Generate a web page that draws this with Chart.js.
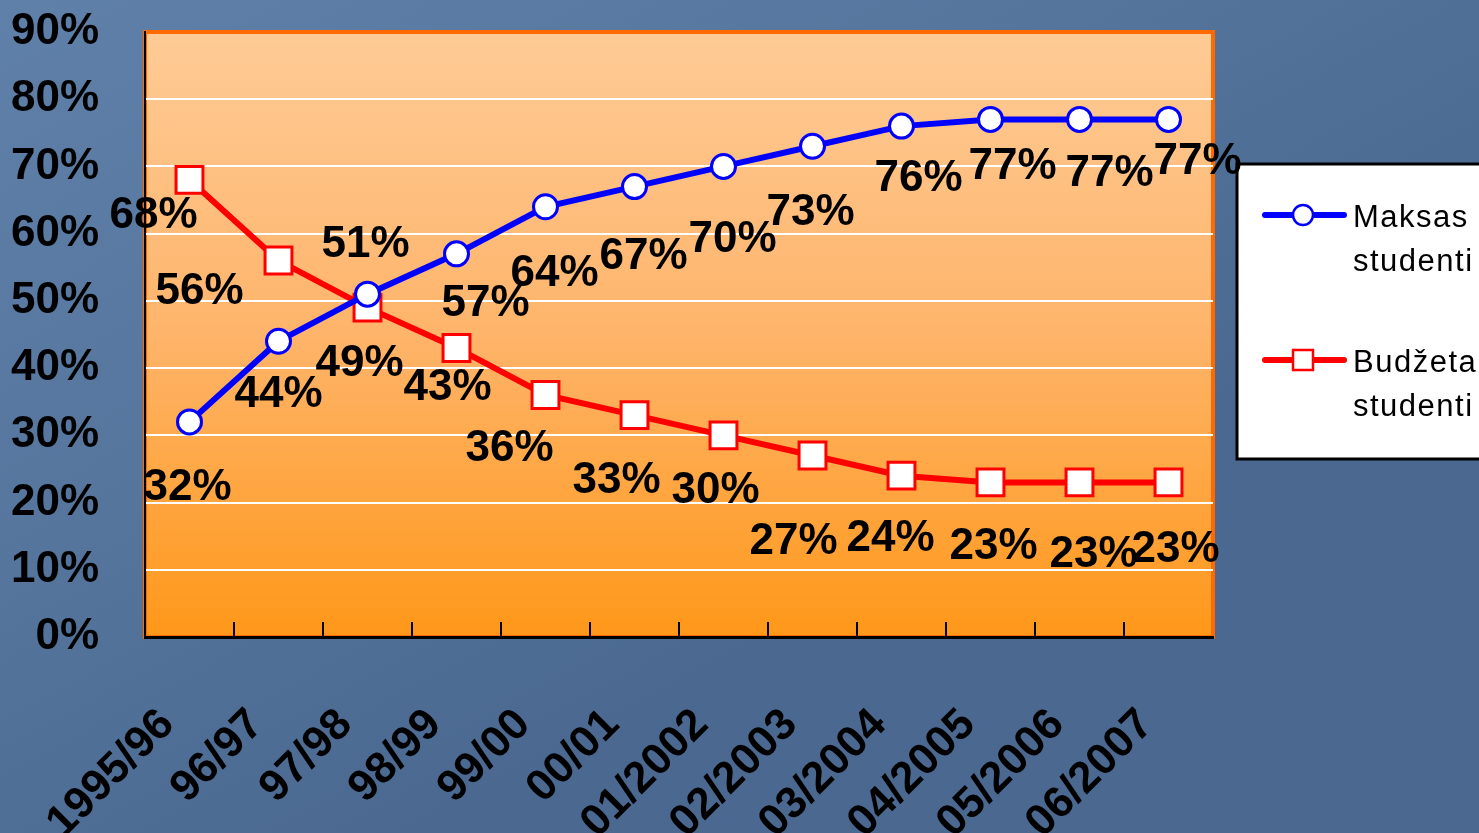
<!DOCTYPE html>
<html>
<head>
<meta charset="utf-8">
<script src="https://cdn.jsdelivr.net/npm/chart.js@4/dist/chart.umd.min.js"></script>
<style>
  html, body { margin: 0; padding: 0; background: #52729a; overflow: hidden; }
  canvas { display: block; }
</style>
</head>
<body>
<canvas id="chart" width="1479" height="833"></canvas>
<script>
// data
const years = ['1995/96', '96/97', '97/98', '98/99', '99/00', '00/01', '01/2002', '02/2003', '03/2004', '04/2005', '05/2006', '06/2007'];
const paying = [32, 44, 51, 57, 64, 67, 70, 73, 76, 77, 77, 77];
const budget = [68, 56, 49, 43, 36, 33, 30, 27, 24, 23, 23, 23];
const seriesNames = [['Maksas', 'studenti'], ['Budžeta', 'studenti']];
const yTicks = [0, 10, 20, 30, 40, 50, 60, 70, 80, 90];

// where each value label sits relative to its point
const payingLabelOffsets = [[-2, 66], [0, 54], [-2, -49], [29, 50], [9, 67], [9, 70], [9, 73], [-2, 67], [17, 53], [22, 47], [30, 54], [29, 42]];
const budgetLabelOffsets = [[-36, 36], [-79, 31], [-8, 56], [-9, 40], [-36, 54], [-18, 66], [-8, 56], [-19, 86], [-11, 63], [3, 64], [14, 72], [7, 67]];

const FONT = '"Liberation Sans", Arial, sans-serif';

const slidePlugin = {
  id: 'slide',
  beforeDraw(chart) {
    const { ctx, width, height, chartArea: a } = chart;
    ctx.save();
    // slide background
    const bg = ctx.createLinearGradient(0, 0, width * 0.3, height);
    bg.addColorStop(0, '#5f80a8');
    bg.addColorStop(0.5, '#56769e');
    bg.addColorStop(1, '#4a6890');
    ctx.fillStyle = bg;
    ctx.fillRect(0, 0, width, height);
    // plot area
    const pg = ctx.createLinearGradient(0, a.top, 0, a.bottom);
    pg.addColorStop(0, '#fecb96');
    pg.addColorStop(0.5, '#feb46a');
    pg.addColorStop(1, '#ff981a');
    ctx.fillStyle = pg;
    ctx.fillRect(a.left, a.top, a.right - a.left, a.bottom - a.top);
    ctx.strokeStyle = '#ff6a00';
    ctx.lineWidth = 4;
    ctx.strokeRect(a.left, a.top, a.right - a.left, a.bottom - a.top);
    ctx.restore();
  },
  afterDraw(chart) {
    const { ctx, chartArea: a } = chart;
    const xs = chart.scales.x;
    ctx.save();
    // inward tick marks between categories
    ctx.strokeStyle = '#000';
    ctx.lineWidth = 2;
    for (let i = 1; i < years.length; i++) {
      const px = (xs.getPixelForValue(i - 1) + xs.getPixelForValue(i)) / 2;
      ctx.beginPath();
      ctx.moveTo(px, a.bottom);
      ctx.lineTo(px, a.bottom - 15);
      ctx.stroke();
    }

    // legend box
    const lx = 1237, ly = 164;
    ctx.fillStyle = '#fff';
    ctx.fillRect(lx, ly, 260, 295);
    ctx.strokeStyle = '#000';
    ctx.lineWidth = 3;
    ctx.strokeRect(lx, ly, 260, 295);
    const rows = [215, 360];
    chart.data.datasets.forEach((ds, i) => {
      const y = rows[i];
      ctx.strokeStyle = ds.borderColor;
      ctx.lineWidth = 6;
      ctx.lineCap = 'round';
      ctx.beginPath();
      ctx.moveTo(1265, y);
      ctx.lineTo(1344, y);
      ctx.stroke();
      ctx.fillStyle = '#fff';
      ctx.lineWidth = 2.5;
      ctx.beginPath();
      if (ds.pointStyle === 'circle') {
        ctx.arc(1303, y, 10, 0, Math.PI * 2);
      } else {
        ctx.rect(1293, y - 10, 20, 20);
      }
      ctx.fill();
      ctx.stroke();
      ctx.fillStyle = '#000';
      ctx.font = '31px ' + FONT;
      ctx.letterSpacing = '1.5px';
      ctx.textAlign = 'left';
      ctx.textBaseline = 'middle';
      seriesNames[i].forEach((t, k) => ctx.fillText(t, 1353, y + 3 + k * 44));
    });
    ctx.letterSpacing = '0px';

    // value labels
    const offsets = [payingLabelOffsets, budgetLabelOffsets];
    ctx.font = 'bold 44px ' + FONT;
    ctx.fillStyle = '#000';
    ctx.textAlign = 'center';
    ctx.textBaseline = 'middle';
    chart.data.datasets.forEach((ds, i) => {
      chart.getDatasetMeta(i).data.forEach((pt, j) => {
        const [dx, dy] = offsets[i][j];
        ctx.fillText(ds.data[j] + '%', pt.x + dx, pt.y + dy);
      });
    });
    ctx.restore();
  }
};

new Chart(document.getElementById('chart'), {
  type: 'line',
  data: {
    labels: years,
    datasets: [
      {
        label: seriesNames[0].join(' '),
        data: paying,
        borderColor: '#0000ff',
        borderWidth: 6,
        pointStyle: 'circle',
        pointRadius: 12,
        pointBorderWidth: 3,
        pointBackgroundColor: '#fff',
        pointBorderColor: '#0000ff',
        tension: 0
      },
      {
        label: seriesNames[1].join(' '),
        data: budget,
        borderColor: '#ff0000',
        borderWidth: 6,
        pointStyle: 'rect',
        pointRadius: 19,
        pointBorderWidth: 3,
        pointBackgroundColor: '#fff',
        pointBorderColor: '#ff0000',
        tension: 0
      }
    ]
  },
  options: {
    responsive: false,
    animation: false,
    layout: { padding: { left: 0, right: 266, top: 32, bottom: 0 } },
    plugins: {
      legend: { display: false },
      tooltip: { enabled: false }
    },
    scales: {
      x: {
        offset: true,
        afterFit(scale) { scale.height = 196; scale.paddingLeft = 0; scale.paddingRight = 0; },
        grid: { display: false, drawTicks: false },
        border: { display: true, color: '#000', width: 3 },
        ticks: {
          color: '#000',
          font: { family: FONT, size: 44, weight: 'bold' },
          minRotation: 45,
          maxRotation: 45,
          padding: 62,
          labelOffset: -22,
          autoSkip: false
        }
      },
      y: {
        min: 0,
        max: 90,
        afterFit(scale) { scale.width = 145; scale.paddingTop = 0; scale.paddingBottom = 0; },
        afterBuildTicks(scale) { scale.ticks = yTicks.map(v => ({ value: v })); },
        grid: {
          drawTicks: false,
          lineWidth: 2,
          color: ctx => (ctx.tick && ctx.tick.value > 0 && ctx.tick.value < 90) ? '#ffffff' : 'rgba(0,0,0,0)'
        },
        border: { display: true, color: '#000', width: 2 },
        ticks: {
          color: '#000',
          padding: 46,
          font: { family: FONT, size: 44, weight: 'bold' },
          callback: v => v + '%'
        }
      }
    }
  },
  plugins: [slidePlugin]
});
</script>
</body>
</html>
